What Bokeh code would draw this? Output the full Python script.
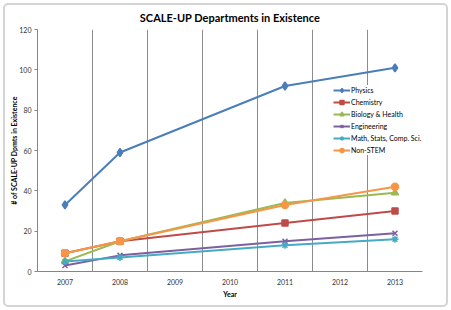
from bokeh.plotting import figure
from bokeh.models import FixedTicker, Legend, LegendItem, InlineStyleSheet
from bokeh.embed import file_html
from bokeh.resources import INLINE

years_all = [2007, 2008, 2009, 2010, 2011, 2012, 2013]
tick_labels = ["2007", "2008", "2009", "2010", "2011", "2012", "2013"]
years = [2007, 2008, 2011, 2013]

physics = [33, 59, 92, 101]
chemistry = [9, 15, 24, 30]
biology = [5, 15, 34, 39]
engineering = [3, 8, 15, 19]
math_cs = [5, 7, 13, 16]
non_stem = [9, 15, 33, 42]

series = [
    ("Physics", physics, "#4A7EBB", "diamond", 8),
    ("Chemistry", chemistry, "#BE4B48", "square", 6),
    ("Biology & Health", biology, "#98B954", "triangle", 7),
    ("Engineering", engineering, "#7D60A0", "x", 7),
    ("Math, Stats, Comp. Sci.", math_cs, "#46AAC5", "asterisk", 7),
    ("Non-STEM", non_stem, "#F79646", "circle", 7),
]

FONT = "Lato"
frame_css = InlineStyleSheet(css="""
:host { position: relative; }
:host::after {
  content: "";
  position: absolute;
  left: 3px; top: 3px; right: 3px; bottom: 3px;
  border: 2px solid #d4d4d4;
  border-radius: 5px;
  pointer-events: none;
  z-index: 100;
}
""")
p = figure(width=451, height=310, output_backend="svg", toolbar_location=None,
           x_range=(2006.5, 2013.5), y_range=(0, 120),
           min_border_left=37, min_border_right=451 - 422,
           min_border_top=29, min_border_bottom=310 - 271,
           stylesheets=[frame_css])
p.title.text = "SCALE-UP Departments in Existence"
p.title.text_font = FONT
p.title.text_font_size = "11px"
p.title.text_font_style = "bold"
p.title.text_color = "#000000"
p.title.align = "center"
p.title.offset = -6
p.title.standoff = 12
p.title.text_line_height = 1.0
p.outline_line_color = None
p.background_fill_color = "white"

p.xaxis.ticker = FixedTicker(ticks=years_all)
p.xaxis.major_label_overrides = {y: l for y, l in zip(years_all, tick_labels)}
p.xaxis.minor_tick_line_color = None
p.xaxis.axis_label = "Year"
p.yaxis.ticker = FixedTicker(ticks=[0, 20, 40, 60, 80, 100, 120])
p.yaxis.minor_tick_line_color = None
p.yaxis.major_tick_in = 0
p.yaxis.major_tick_out = 3
p.yaxis.axis_label = "# of SCALE-UP Dpmts in Existence"
for ax in (p.xaxis[0], p.yaxis[0]):
    ax.axis_line_color = "#868686"
    ax.major_label_text_font = FONT
    ax.major_label_text_font_size = "7px"
    ax.major_label_text_color = "#333333"
    ax.axis_label_text_font = FONT
    ax.axis_label_text_font_size = "7px"
    ax.axis_label_text_font_style = "bold"
    ax.axis_label_text_color = "#000000"
p.xaxis.major_tick_line_color = None
p.yaxis.major_tick_line_color = "#868686"
p.xaxis.major_label_standoff = 1
p.xaxis.axis_label_standoff = 2
p.yaxis.major_label_standoff = 3
p.yaxis.axis_label_standoff = -2

p.xgrid.ticker = FixedTicker(ticks=[2006.5 + i for i in range(8)])
p.xgrid.grid_line_color = "#8c8c8c"
p.ygrid.grid_line_color = None

items = []
for name, vals, color, marker, size in series:
    r1 = p.line(years, vals, line_color=color, line_width=2)
    r2 = p.scatter(years, vals, marker=marker, size=size, fill_color=color,
                   line_color=color, line_width=1.5)
    items.append(LegendItem(label=name, renderers=[r1, r2]))

legend = Legend(items=items, location=(296, 116))
legend.label_text_font = FONT
legend.label_text_font_size = "7px"
legend.label_text_color = "#000000"
legend.glyph_width = 17
legend.glyph_height = 10
legend.label_height = 10
legend.spacing = 2
legend.padding = 3
legend.margin = 0
legend.label_standoff = 1
legend.border_line_color = None
legend.background_fill_color = "white"
legend.background_fill_alpha = 1
p.add_layout(legend, "center")

open("out.html", "w").write(file_html(p, INLINE))
